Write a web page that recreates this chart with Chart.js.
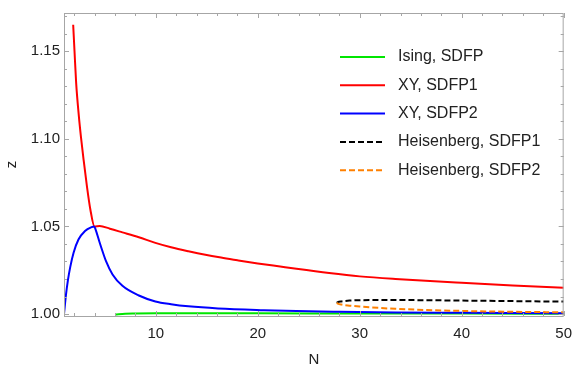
<!DOCTYPE html>
<html>
<head>
<meta charset="utf-8">
<script src="https://cdn.jsdelivr.net/npm/chart.js@4.4.1/dist/chart.umd.min.js"></script>
<style>
  body { margin: 0; background: #fff; }
  #wrap { width: 581px; height: 371px; }
</style>
</head>
<body>
<div id="wrap"><canvas id="chart" width="581" height="371"></canvas></div>
<script>
// values
const ising_n = [6.02, 7, 8, 10, 15, 20, 30, 40, 50];
const ising_z = [0.9998, 1.0002, 1.0003, 1.0004, 1.0004, 1.0004, 1.0003, 1.0003, 1.0002];

const xy1_n = [1.9, 2.03, 2.19, 2.45, 2.67, 2.93, 3.25, 3.58, 3.99, 4.5, 5.5, 6.73, 8.34, 9.96, 11.5, 13.2, 14.1, 16.4, 18, 20, 22.2, 23.8, 27, 30, 33.5, 40, 45, 50];
const xy1_z = [1.165, 1.150, 1.132, 1.1133, 1.1006, 1.0876, 1.0728, 1.0598, 1.0500, 1.0502, 1.0487, 1.0466, 1.0438, 1.0406, 1.0381, 1.0358, 1.0347, 1.0322, 1.0307, 1.0289, 1.0271, 1.0258, 1.0234, 1.0215, 1.0200, 1.0178, 1.0163, 1.0150];

const xy2_n = [1, 1.19, 1.39, 1.61, 1.94, 2.42, 3.06, 3.7, 3.95, 4.1, 4.48, 4.67, 5.12, 5.76, 6.73, 8.34, 9.96, 11.5, 13.2, 16.1, 20.6, 23.8, 28, 33.5, 40, 50];
const xy2_z = [1.0000, 1.0108, 1.0195, 1.0268, 1.0350, 1.0425, 1.0474, 1.0496, 1.0500, 1.0482, 1.0411, 1.0377, 1.0302, 1.0226, 1.0161, 1.0106, 1.0072, 1.0056, 1.0044, 1.0032, 1.0022, 1.0017, 1.0013, 1.0009, 1.0007, 1.0004];

const heis1_n = [27.75, 27.85, 28.2, 29, 30, 33.5, 40, 45, 50];
const heis1_z = [1.0064, 1.0068, 1.0072, 1.0077, 1.0079, 1.0080, 1.0077, 1.0074, 1.0071];

const heis2_n = [27.75, 27.85, 28.2, 29, 30, 33.5, 40, 45, 50];
const heis2_z = [1.0064, 1.0060, 1.0054, 1.0048, 1.0043, 1.0030, 1.0018, 1.0013, 1.0010];

const x_major = [10, 20, 30, 40, 50];
const x_minor = [2, 4, 6, 8, 12, 14, 16, 18, 22, 24, 26, 28, 32, 34, 36, 38, 42, 44, 46, 48];
const y_major = [1.00, 1.05, 1.10, 1.15];
const y_minor = [1.01, 1.02, 1.03, 1.04, 1.06, 1.07, 1.08, 1.09, 1.11, 1.12, 1.13, 1.14, 1.16, 1.17];

function points(ns, zs) {
    return ns.map((n, i) => ({x: n, y: zs[i]}));
}

function series(label, ns, zs, color, dash, order) {
    return {
        label: label,
        data: points(ns, zs),
        borderColor: color,
        backgroundColor: color,
        borderWidth: 2,
        borderDash: dash,
        pointRadius: 0,
        fill: false,
        cubicInterpolationMode: 'monotone',
        order: order
    };
}

let datasets = [
    series('Ising, SDFP', ising_n, ising_z, 'rgb(0,230,0)', [], 5),
    series('XY, SDFP1', xy1_n, xy1_z, 'rgb(255,0,0)', [], 4),
    series('XY, SDFP2', xy2_n, xy2_z, 'rgb(0,0,255)', [], 3),
    series('Heisenberg, SDFP1', heis1_n, heis1_z, 'rgb(0,0,0)', [6, 3], 2),
    series('Heisenberg, SDFP2', heis2_n, heis2_z, 'rgb(255,128,0)', [6, 3], 1)
];

const frameColor = '#a6a6a6';
const textColor = '#222';
const font = "'Liberation Sans', Arial, sans-serif";

// frame with inward ticks on all four sides, and the legend
const framePlugin = {
    id: 'frame',
    afterDraw(chart) {
        const ctx = chart.ctx;
        const a = chart.chartArea;
        const xs = chart.scales.x, ys = chart.scales.y;
        ctx.save();
        ctx.strokeStyle = frameColor;
        ctx.lineWidth = 1;
        ctx.strokeRect(a.left + 0.5, a.top + 0.5, a.right - a.left - 1, a.bottom - a.top);

        ctx.beginPath();
        x_major.concat(x_minor).forEach(v => {
            const len = x_major.includes(v) ? 5 : 3;
            const px = Math.round(xs.getPixelForValue(v)) + 0.5;
            ctx.moveTo(px, a.bottom); ctx.lineTo(px, a.bottom - len);
            ctx.moveTo(px, a.top); ctx.lineTo(px, a.top + len);
        });
        y_major.concat(y_minor).forEach(v => {
            const len = y_major.includes(v) ? 5 : 3;
            const py = Math.round(ys.getPixelForValue(v)) + 0.5;
            ctx.moveTo(a.left, py); ctx.lineTo(a.left + len, py);
            ctx.moveTo(a.right, py); ctx.lineTo(a.right - len, py);
        });
        ctx.stroke();

        // legend
        ctx.font = '16px ' + font;
        ctx.textBaseline = 'middle';
        ctx.fillStyle = textColor;
        chart.data.datasets.forEach((ds, i) => {
            const y = 57 + i * 28.3;
            ctx.beginPath();
            ctx.strokeStyle = ds.borderColor;
            ctx.lineWidth = 2;
            ctx.setLineDash(ds.borderDash);
            ctx.moveTo(340, y); ctx.lineTo(385, y);
            ctx.stroke();
            ctx.setLineDash([]);
            ctx.fillText(ds.label, 398, y);
        });
        ctx.restore();
    }
};

let config = {
    type: 'line',
    data: { datasets: datasets },
    options: {
        responsive: false,
        animation: false,
        layout: { padding: { top: 4, right: 11, left: 0, bottom: 0 } },
        plugins: { legend: { display: false }, tooltip: { enabled: false } },
        scales: {
            x: {
                type: 'linear',
                min: 1,
                max: 50,
                afterFit: s => { s.height = 55; },
                afterBuildTicks: s => { s.ticks = x_major.map(v => ({value: v})); },
                grid: { display: false, drawTicks: false },
                border: { display: false },
                ticks: {
                    color: textColor,
                    font: { family: font, size: 15 },
                    padding: 9,
                    maxRotation: 0,
                    callback: v => String(v)
                },
                title: {
                    display: true,
                    text: 'N',
                    color: textColor,
                    font: { family: font, size: 15 },
                    padding: { top: 0, bottom: 2 }
                }
            },
            y: {
                type: 'linear',
                min: 0.9989,
                max: 1.1717,
                afterFit: s => { s.width = 64; },
                afterBuildTicks: s => { s.ticks = y_major.map(v => ({value: v})); },
                grid: { display: false, drawTicks: false },
                border: { display: false },
                ticks: {
                    color: textColor,
                    font: { family: font, size: 15 },
                    padding: 4,
                    callback: v => v.toFixed(2)
                },
                title: {
                    display: true,
                    text: 'z',
                    color: textColor,
                    font: { family: font, size: 15 },
                    padding: { top: 3, bottom: 0 }
                }
            }
        }
    },
    plugins: [framePlugin]
};

let z_chart = new Chart(document.getElementById('chart'), config);
</script>
</body>
</html>
